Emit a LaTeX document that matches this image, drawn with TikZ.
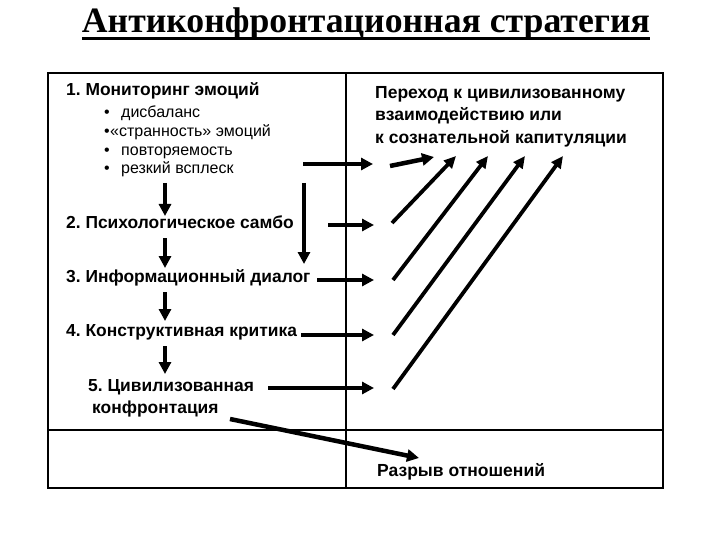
\documentclass[tikz,border=0pt]{standalone}
\usepackage{fontspec}
\setmainfont{Liberation Sans}
\newfontfamily\titlefont{Liberation Serif}
\usetikzlibrary{arrows.meta}
\frenchspacing
\begin{document}
\begin{tikzpicture}[x=1pt,y=-1pt,
  hd/.style={font=\fontsize{17.4}{19}\selectfont\bfseries, anchor=west, inner sep=0pt, text height=0.72em, text depth=0.2em},
  rh/.style={font=\fontsize{17.5}{19}\selectfont\bfseries, anchor=west, inner sep=0pt, text height=0.72em, text depth=0.2em},
  it/.style={font=\fontsize{16}{18}\selectfont, anchor=west, inner sep=0pt, text height=0.72em, text depth=0.2em},
  arr/.style={line width=4.5pt, -{Triangle[length=12pt,width=12pt]}},
  diag/.style={line width=3.8pt, -{Triangle[length=12pt,width=11pt]}},
  frame/.style={line width=2pt},
  divider/.style={line width=1.5pt}]
\useasboundingbox (0,0) rectangle (720,540);
% title
\node[font=\titlefont\fontsize{35.7}{40}\selectfont\bfseries, inner sep=0pt, anchor=base] (title) at (366,33) {Антиконфронтационная стратегия};
\draw[line width=2.2pt] (title.west |- 0,38.5) -- (title.east |- 0,38.5);
% frame and dividers
\draw[frame] (48,73) rectangle (663,488);
\draw[divider] (346,73) -- (346,488);
\draw[divider] (48,430) -- (663,430);
% left column
\node[hd] (s1) at (66,93) {1. Мониторинг эмоций};
\node[it] (b1) at (104,115) {•};
\node[it] (t1) at (121,115) {дисбаланс};
\node[it] (b2) at (104,134) {•};
\node[it] (t2) at (110,134) {«странность» эмоций};
\node[it] (b3) at (104,153) {•};
\node[it] (t3) at (121,153) {повторяемость};
\node[it] (b4) at (104,171) {•};
\node[it] (t4) at (121,171) {резкий всплеск};
\node[hd] (s2) at (66,226) {2. Психологическое самбо};
\node[hd] (s3) at (66,280) {3. Информационный диалог};
\node[hd] (s4) at (66,334) {4. Конструктивная критика};
\node[hd] (s5a) at (88,389) {5. Цивилизованная};
\node[hd] (s5b) at (92,411) {конфронтация};
% right column
\node[rh] (r1) at (375,96) {Переход к цивилизованному};
\node[rh] (r2) at (375,118) {взаимодействию или};
\node[rh] (r3) at (375,141) {к сознательной капитуляции};
\node[rh] (r4) at (377,474) {Разрыв отношений};
% arrow end points
\coordinate (v1a) at (165,183); \coordinate (v1b) at (165,216);
\coordinate (v2a) at (165,238); \coordinate (v2b) at (165,268);
\coordinate (v3a) at (165,292); \coordinate (v3b) at (165,321);
\coordinate (v4a) at (165,346); \coordinate (v4b) at (165,374);
\coordinate (lva) at (304,183); \coordinate (lvb) at (304,264);
\coordinate (h0a) at (303,164); \coordinate (h0b) at (373,164);
\coordinate (sha) at (390,166); \coordinate (shb) at (434,157);
\coordinate (h2a) at (328,225); \coordinate (h2b) at (374,225);
\coordinate (h3a) at (317,280); \coordinate (h3b) at (374,280);
\coordinate (h4a) at (301,335); \coordinate (h4b) at (374,335);
\coordinate (h5a) at (268,388); \coordinate (h5b) at (374,388);
\coordinate (d1a) at (392,223); \coordinate (d1b) at (456,156);
\coordinate (d2a) at (393,280); \coordinate (d2b) at (488,156);
\coordinate (d3a) at (393,335); \coordinate (d3b) at (525,156);
\coordinate (d4a) at (393,389); \coordinate (d4b) at (563,156);
\coordinate (bra) at (230,419); \coordinate (brb) at (419,458);
% arrows
\draw[arr] (v1a) -- (v1b);
\draw[arr] (v2a) -- (v2b);
\draw[arr] (v3a) -- (v3b);
\draw[arr] (v4a) -- (v4b);
\draw[arr] (lva) -- (lvb);
\draw[arr] (h0a) -- (h0b);
\draw[arr] (sha) -- (shb);
\draw[arr] (h2a) -- (h2b);
\draw[arr] (h3a) -- (h3b);
\draw[arr] (h4a) -- (h4b);
\draw[arr] (h5a) -- (h5b);
\draw[diag] (d1a) -- (d1b);
\draw[diag] (d2a) -- (d2b);
\draw[diag] (d3a) -- (d3b);
\draw[diag] (d4a) -- (d4b);
\draw[arr] (bra) -- (brb);
\end{tikzpicture}
\end{document}
